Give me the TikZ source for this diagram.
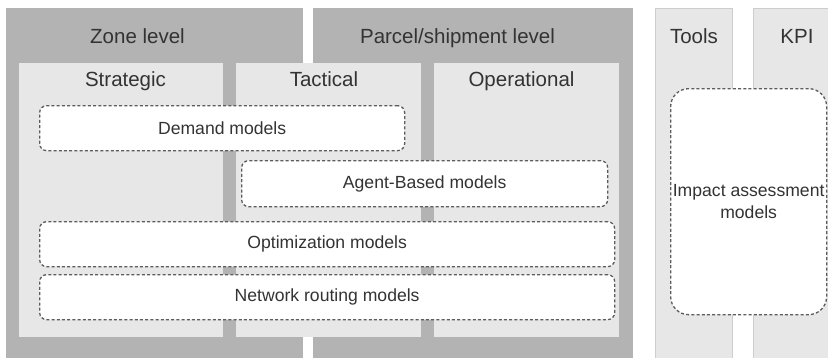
\documentclass[tikz,border=0pt]{standalone}
\usepackage{fontspec}
\setmainfont{Liberation Sans}
\usepackage{xcolor}
\usepackage{tikz}
\usetikzlibrary{positioning}
\definecolor{bandgray}{HTML}{B3B3B3}
\definecolor{panelgray}{HTML}{E7E7E7}
\definecolor{colline}{HTML}{CDCDCD}
\definecolor{inkgray}{HTML}{333333}
\definecolor{dashgray}{HTML}{5C5C5C}
\tikzset{
  band/.style={fill=bandgray, draw=none, anchor=north west, inner sep=0pt},
  panel/.style={fill=panelgray, draw=none, anchor=north west, inner sep=0pt},
  column/.style={fill=panelgray, draw=colline, line width=0.8pt, anchor=north west, inner sep=0pt},
  hdr/.style={anchor=base, text=inkgray, font=\fontsize{20.5}{24}\selectfont, inner sep=0pt},
  model/.style={draw=dashgray, fill=white, line width=1.3pt, dash pattern=on 3pt off 2.2pt,
                rounded corners=7pt, anchor=north west, inner sep=0pt, align=center,
                text=inkgray, font=\fontsize{17.6}{22}\selectfont}
}

\begin{document}
\begin{tikzpicture}[x=1pt, y=-1pt]
\useasboundingbox (0,0) rectangle (828,357);
% level bands
\node[band, minimum width=297pt, minimum height=350pt] (zone) at (6,8) {};
\node[band, minimum width=320pt, minimum height=350pt] (parcel) at (313,8) {};
\node[column, minimum width=77pt, minimum height=352pt] (tools) at (655,8) {};
\node[column, minimum width=80pt, minimum height=352pt] (kpi) at (753,8) {};
% planning horizons
\node[panel, minimum width=204pt, minimum height=274pt] (strategic) at (19,63) {};
\node[panel, minimum width=185pt, minimum height=274pt] (tactical) at (236,63) {};
\node[panel, minimum width=185pt, minimum height=274pt] (operational) at (434,63) {};
% headings
\node[hdr] (zonelbl) at (137.5,43) {Zone level};
\node[hdr] (parcellbl) at (457.5,43) {Parcel/shipment level};
\node[hdr] (toolslbl) at (694,43) {Tools};
\node[hdr] (kpilbl) at (797,43) {KPI};
\node[hdr] (stratlbl) at (125.5,86) {Strategic};
\node[hdr] (tactlbl) at (324,86) {Tactical};
\node[hdr] (operlbl) at (521.5,86) {Operational};
% model families
\node[model, minimum width=365pt, minimum height=45pt] (demand) at (39,105) {Demand models};
\node[model, minimum width=366pt, minimum height=46pt] (agent) at (241,160) {Agent-Based models};
\node[model, minimum width=575pt, minimum height=45pt] (optim) at (39,221) {Optimization models};
\node[model, minimum width=575pt, minimum height=45pt] (network) at (39,274) {Network routing models};
\node[model, rounded corners=18pt, minimum width=156pt, minimum height=226pt] (impact) at (670,88)
  {Impact assessment\\models};
\end{tikzpicture}
\end{document}
